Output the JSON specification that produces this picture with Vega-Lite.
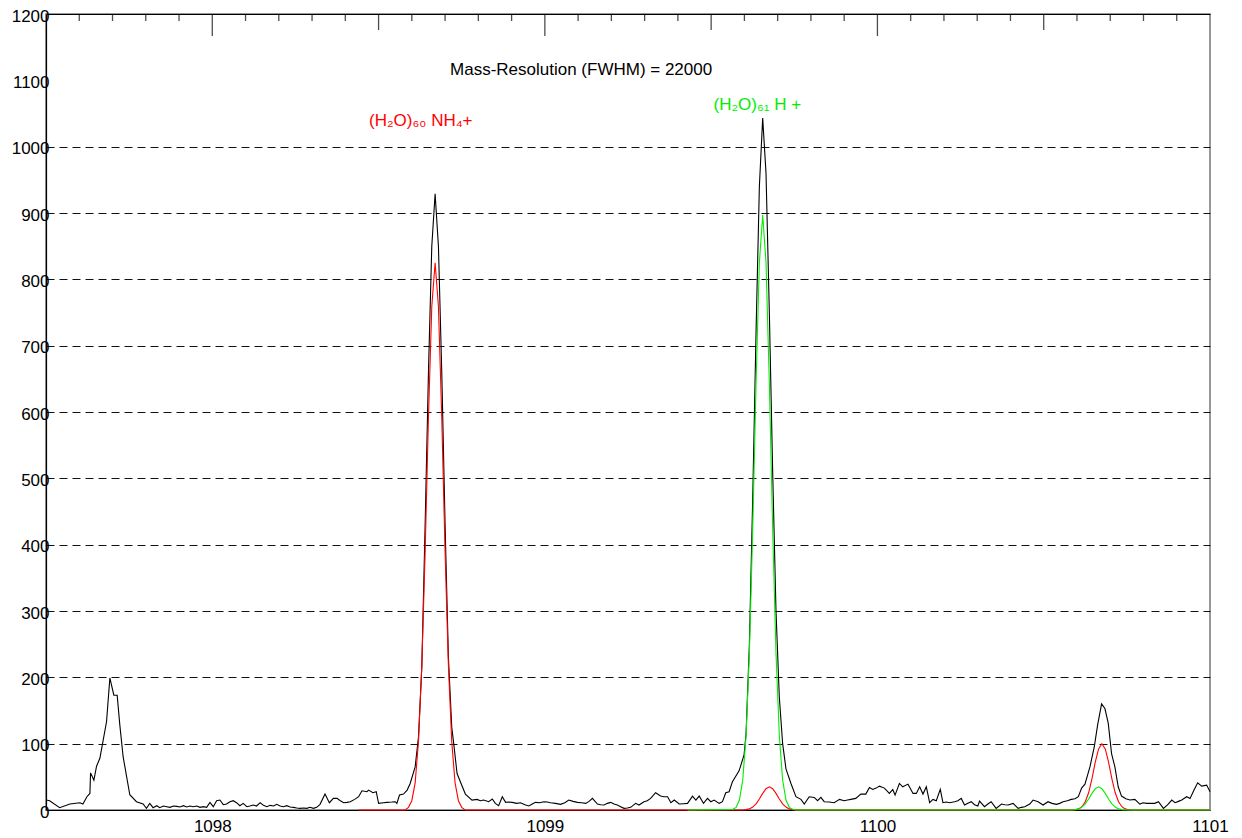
{
  "$schema": "https://vega.github.io/schema/vega-lite/v6.json",
  "width": 1164,
  "height": 796,
  "autosize": "none",
  "padding": {"left": 46, "top": 14, "right": 32, "bottom": 28},
  "background": "white",
  "config": {
    "view": {"stroke": "#777", "strokeWidth": 1.5},
    "font": "Liberation Sans",
    "axis": {"labelFont": "Liberation Sans", "labelFontSize": 17, "labelColor": "#000", "domainColor": "#000", "domainWidth": 1.2, "title": null}
  },
  "datasets": {
    "black": [
      {"mass": 1097.501, "intensity": 15}, {"mass": 1097.511, "intensity": 14}, {"mass": 1097.541, "intensity": 3.5}, {"mass": 1097.572, "intensity": 9},
      {"mass": 1097.602, "intensity": 11}, {"mass": 1097.611, "intensity": 9}, {"mass": 1097.623, "intensity": 20}, {"mass": 1097.632, "intensity": 25},
      {"mass": 1097.634, "intensity": 56}, {"mass": 1097.644, "intensity": 45}, {"mass": 1097.652, "intensity": 66}, {"mass": 1097.662, "intensity": 78},
      {"mass": 1097.682, "intensity": 133}, {"mass": 1097.692, "intensity": 199}, {"mass": 1097.704, "intensity": 173}, {"mass": 1097.714, "intensity": 173},
      {"mass": 1097.722, "intensity": 128}, {"mass": 1097.732, "intensity": 80}, {"mass": 1097.752, "intensity": 23}, {"mass": 1097.772, "intensity": 12.5},
      {"mass": 1097.792, "intensity": 9}, {"mass": 1097.802, "intensity": 2.5}, {"mass": 1097.812, "intensity": 10}, {"mass": 1097.822, "intensity": 3.5},
      {"mass": 1097.833, "intensity": 6.5}, {"mass": 1097.842, "intensity": 3.5}, {"mass": 1097.853, "intensity": 6}, {"mass": 1097.863, "intensity": 5},
      {"mass": 1097.873, "intensity": 4}, {"mass": 1097.883, "intensity": 6}, {"mass": 1097.893, "intensity": 5.5}, {"mass": 1097.903, "intensity": 4.5},
      {"mass": 1097.913, "intensity": 6.5}, {"mass": 1097.923, "intensity": 4.5}, {"mass": 1097.933, "intensity": 6}, {"mass": 1097.943, "intensity": 5},
      {"mass": 1097.953, "intensity": 6}, {"mass": 1097.963, "intensity": 4}, {"mass": 1097.973, "intensity": 5}, {"mass": 1097.983, "intensity": 4},
      {"mass": 1097.993, "intensity": 11.5}, {"mass": 1098.003, "intensity": 5}, {"mass": 1098.013, "intensity": 14}, {"mass": 1098.023, "intensity": 15},
      {"mass": 1098.033, "intensity": 8}, {"mass": 1098.043, "intensity": 9}, {"mass": 1098.053, "intensity": 12.5}, {"mass": 1098.063, "intensity": 14},
      {"mass": 1098.073, "intensity": 11}, {"mass": 1098.083, "intensity": 6.5}, {"mass": 1098.093, "intensity": 10}, {"mass": 1098.104, "intensity": 5},
      {"mass": 1098.113, "intensity": 6}, {"mass": 1098.123, "intensity": 7.5}, {"mass": 1098.133, "intensity": 6}, {"mass": 1098.144, "intensity": 11},
      {"mass": 1098.154, "intensity": 7}, {"mass": 1098.164, "intensity": 5}, {"mass": 1098.174, "intensity": 7}, {"mass": 1098.184, "intensity": 6},
      {"mass": 1098.194, "intensity": 8.5}, {"mass": 1098.204, "intensity": 6}, {"mass": 1098.214, "intensity": 5}, {"mass": 1098.224, "intensity": 6.5},
      {"mass": 1098.234, "intensity": 4.5}, {"mass": 1098.244, "intensity": 4}, {"mass": 1098.254, "intensity": 3}, {"mass": 1098.264, "intensity": 2.5},
      {"mass": 1098.274, "intensity": 3}, {"mass": 1098.284, "intensity": 2.5}, {"mass": 1098.294, "intensity": 4}, {"mass": 1098.304, "intensity": 2.5},
      {"mass": 1098.314, "intensity": 4}, {"mass": 1098.324, "intensity": 8.5}, {"mass": 1098.339, "intensity": 24}, {"mass": 1098.352, "intensity": 11},
      {"mass": 1098.364, "intensity": 17.5}, {"mass": 1098.375, "intensity": 17.5}, {"mass": 1098.385, "intensity": 14}, {"mass": 1098.395, "intensity": 11},
      {"mass": 1098.405, "intensity": 11.5}, {"mass": 1098.415, "intensity": 12.5}, {"mass": 1098.428, "intensity": 16}, {"mass": 1098.44, "intensity": 20},
      {"mass": 1098.45, "intensity": 29}, {"mass": 1098.465, "intensity": 27.5}, {"mass": 1098.47, "intensity": 30}, {"mass": 1098.483, "intensity": 26},
      {"mass": 1098.493, "intensity": 27.5}, {"mass": 1098.5, "intensity": 10}, {"mass": 1098.515, "intensity": 11}, {"mass": 1098.525, "intensity": 11.5},
      {"mass": 1098.54, "intensity": 12}, {"mass": 1098.55, "intensity": 12.5}, {"mass": 1098.555, "intensity": 10}, {"mass": 1098.563, "intensity": 22.5},
      {"mass": 1098.575, "intensity": 24}, {"mass": 1098.586, "intensity": 30}, {"mass": 1098.595, "intensity": 40}, {"mass": 1098.61, "intensity": 65},
      {"mass": 1098.62, "intensity": 110}, {"mass": 1098.63, "intensity": 215}, {"mass": 1098.64, "intensity": 430}, {"mass": 1098.65, "intensity": 660},
      {"mass": 1098.66, "intensity": 850}, {"mass": 1098.67, "intensity": 929}, {"mass": 1098.68, "intensity": 850}, {"mass": 1098.69, "intensity": 660},
      {"mass": 1098.7, "intensity": 430}, {"mass": 1098.71, "intensity": 230}, {"mass": 1098.72, "intensity": 125}, {"mass": 1098.726, "intensity": 100},
      {"mass": 1098.736, "intensity": 55}, {"mass": 1098.748, "intensity": 40}, {"mass": 1098.761, "intensity": 24}, {"mass": 1098.781, "intensity": 15},
      {"mass": 1098.796, "intensity": 16}, {"mass": 1098.806, "intensity": 14}, {"mass": 1098.816, "intensity": 15}, {"mass": 1098.831, "intensity": 12.5},
      {"mass": 1098.842, "intensity": 16.5}, {"mass": 1098.851, "intensity": 10}, {"mass": 1098.861, "intensity": 6.5}, {"mass": 1098.872, "intensity": 20},
      {"mass": 1098.882, "intensity": 11.5}, {"mass": 1098.892, "intensity": 12}, {"mass": 1098.902, "intensity": 11.5}, {"mass": 1098.915, "intensity": 10},
      {"mass": 1098.927, "intensity": 11}, {"mass": 1098.94, "intensity": 8}, {"mass": 1098.952, "intensity": 6}, {"mass": 1098.962, "intensity": 9},
      {"mass": 1098.972, "intensity": 11.5}, {"mass": 1098.985, "intensity": 11}, {"mass": 1098.997, "intensity": 12.5}, {"mass": 1099.007, "intensity": 12},
      {"mass": 1099.017, "intensity": 11}, {"mass": 1099.032, "intensity": 10}, {"mass": 1099.047, "intensity": 8.5}, {"mass": 1099.06, "intensity": 11},
      {"mass": 1099.072, "intensity": 15}, {"mass": 1099.085, "intensity": 13}, {"mass": 1099.098, "intensity": 11.5}, {"mass": 1099.11, "intensity": 11},
      {"mass": 1099.123, "intensity": 10}, {"mass": 1099.133, "intensity": 13}, {"mass": 1099.143, "intensity": 17.5}, {"mass": 1099.158, "intensity": 9},
      {"mass": 1099.168, "intensity": 8}, {"mass": 1099.178, "intensity": 7.5}, {"mass": 1099.188, "intensity": 10}, {"mass": 1099.198, "intensity": 11.5},
      {"mass": 1099.208, "intensity": 9}, {"mass": 1099.218, "intensity": 7.5}, {"mass": 1099.228, "intensity": 5}, {"mass": 1099.238, "intensity": 2.5},
      {"mass": 1099.248, "intensity": 3}, {"mass": 1099.258, "intensity": 4}, {"mass": 1099.273, "intensity": 10}, {"mass": 1099.283, "intensity": 7.5},
      {"mass": 1099.298, "intensity": 12.5}, {"mass": 1099.308, "intensity": 14}, {"mass": 1099.318, "intensity": 17.5}, {"mass": 1099.333, "intensity": 26},
      {"mass": 1099.348, "intensity": 21}, {"mass": 1099.358, "intensity": 20}, {"mass": 1099.369, "intensity": 20}, {"mass": 1099.379, "intensity": 11},
      {"mass": 1099.389, "intensity": 15}, {"mass": 1099.404, "intensity": 9}, {"mass": 1099.417, "intensity": 9.5}, {"mass": 1099.429, "intensity": 10},
      {"mass": 1099.444, "intensity": 21}, {"mass": 1099.454, "intensity": 15}, {"mass": 1099.464, "intensity": 21}, {"mass": 1099.477, "intensity": 10},
      {"mass": 1099.489, "intensity": 17.5}, {"mass": 1099.499, "intensity": 12.5}, {"mass": 1099.509, "intensity": 15}, {"mass": 1099.524, "intensity": 10},
      {"mass": 1099.534, "intensity": 12.5}, {"mass": 1099.544, "intensity": 26}, {"mass": 1099.554, "intensity": 27.5}, {"mass": 1099.564, "intensity": 42.5},
      {"mass": 1099.584, "intensity": 59}, {"mass": 1099.599, "intensity": 83}, {"mass": 1099.605, "intensity": 115}, {"mass": 1099.615, "intensity": 250},
      {"mass": 1099.625, "intensity": 470}, {"mass": 1099.635, "intensity": 720}, {"mass": 1099.645, "intensity": 940}, {"mass": 1099.655, "intensity": 1043},
      {"mass": 1099.665, "intensity": 960}, {"mass": 1099.675, "intensity": 750}, {"mass": 1099.685, "intensity": 510}, {"mass": 1099.695, "intensity": 300},
      {"mass": 1099.705, "intensity": 170}, {"mass": 1099.715, "intensity": 100}, {"mass": 1099.725, "intensity": 62}, {"mass": 1099.74, "intensity": 40},
      {"mass": 1099.755, "intensity": 20}, {"mass": 1099.77, "intensity": 16}, {"mass": 1099.78, "intensity": 9}, {"mass": 1099.795, "intensity": 20},
      {"mass": 1099.81, "intensity": 19}, {"mass": 1099.82, "intensity": 14}, {"mass": 1099.83, "intensity": 19}, {"mass": 1099.84, "intensity": 12.5},
      {"mass": 1099.855, "intensity": 12}, {"mass": 1099.87, "intensity": 11}, {"mass": 1099.886, "intensity": 16}, {"mass": 1099.9, "intensity": 14},
      {"mass": 1099.91, "intensity": 15}, {"mass": 1099.92, "intensity": 16}, {"mass": 1099.935, "intensity": 17.5}, {"mass": 1099.95, "intensity": 24},
      {"mass": 1099.965, "intensity": 24}, {"mass": 1099.976, "intensity": 34}, {"mass": 1099.986, "intensity": 31}, {"mass": 1099.996, "intensity": 33},
      {"mass": 1100.006, "intensity": 36}, {"mass": 1100.021, "intensity": 33}, {"mass": 1100.036, "intensity": 25}, {"mass": 1100.046, "intensity": 31},
      {"mass": 1100.053, "intensity": 22.5}, {"mass": 1100.066, "intensity": 40}, {"mass": 1100.076, "intensity": 35}, {"mass": 1100.092, "intensity": 39},
      {"mass": 1100.107, "intensity": 25}, {"mass": 1100.117, "intensity": 25}, {"mass": 1100.127, "intensity": 35}, {"mass": 1100.137, "intensity": 24},
      {"mass": 1100.147, "intensity": 35}, {"mass": 1100.157, "intensity": 11}, {"mass": 1100.167, "intensity": 16}, {"mass": 1100.177, "intensity": 14},
      {"mass": 1100.189, "intensity": 31}, {"mass": 1100.197, "intensity": 11}, {"mass": 1100.207, "intensity": 12}, {"mass": 1100.217, "intensity": 11},
      {"mass": 1100.232, "intensity": 12.5}, {"mass": 1100.242, "intensity": 14}, {"mass": 1100.252, "intensity": 17.5}, {"mass": 1100.262, "intensity": 7.5},
      {"mass": 1100.272, "intensity": 10}, {"mass": 1100.282, "intensity": 12.5}, {"mass": 1100.292, "intensity": 8}, {"mass": 1100.302, "intensity": 6},
      {"mass": 1100.307, "intensity": 13.5}, {"mass": 1100.322, "intensity": 5}, {"mass": 1100.332, "intensity": 9}, {"mass": 1100.342, "intensity": 12.5},
      {"mass": 1100.357, "intensity": 2.5}, {"mass": 1100.373, "intensity": 9}, {"mass": 1100.383, "intensity": 8}, {"mass": 1100.393, "intensity": 7.5},
      {"mass": 1100.408, "intensity": 10}, {"mass": 1100.423, "intensity": 2.5}, {"mass": 1100.433, "intensity": 4}, {"mass": 1100.443, "intensity": 5},
      {"mass": 1100.458, "intensity": 9}, {"mass": 1100.468, "intensity": 15}, {"mass": 1100.483, "intensity": 12.5}, {"mass": 1100.498, "intensity": 7.5},
      {"mass": 1100.513, "intensity": 12.5}, {"mass": 1100.525, "intensity": 10}, {"mass": 1100.538, "intensity": 8.5}, {"mass": 1100.548, "intensity": 10},
      {"mass": 1100.558, "intensity": 12.5}, {"mass": 1100.571, "intensity": 14}, {"mass": 1100.583, "intensity": 16}, {"mass": 1100.594, "intensity": 17},
      {"mass": 1100.604, "intensity": 20}, {"mass": 1100.614, "intensity": 33}, {"mass": 1100.624, "intensity": 39}, {"mass": 1100.639, "intensity": 65},
      {"mass": 1100.652, "intensity": 95}, {"mass": 1100.662, "intensity": 128}, {"mass": 1100.674, "intensity": 160}, {"mass": 1100.684, "intensity": 153},
      {"mass": 1100.694, "intensity": 131}, {"mass": 1100.704, "intensity": 85}, {"mass": 1100.714, "intensity": 65}, {"mass": 1100.724, "intensity": 35},
      {"mass": 1100.734, "intensity": 21}, {"mass": 1100.747, "intensity": 17}, {"mass": 1100.759, "intensity": 15}, {"mass": 1100.774, "intensity": 16},
      {"mass": 1100.789, "intensity": 9}, {"mass": 1100.799, "intensity": 11}, {"mass": 1100.809, "intensity": 10}, {"mass": 1100.821, "intensity": 10},
      {"mass": 1100.834, "intensity": 10}, {"mass": 1100.845, "intensity": 12.5}, {"mass": 1100.86, "intensity": 2.5}, {"mass": 1100.873, "intensity": 8},
      {"mass": 1100.885, "intensity": 15}, {"mass": 1100.895, "intensity": 11}, {"mass": 1100.905, "intensity": 13}, {"mass": 1100.915, "intensity": 15},
      {"mass": 1100.93, "intensity": 20}, {"mass": 1100.94, "intensity": 17.5}, {"mass": 1100.952, "intensity": 30}, {"mass": 1100.963, "intensity": 41},
      {"mass": 1100.975, "intensity": 36}, {"mass": 1100.99, "intensity": 37.5}, {"mass": 1101.0, "intensity": 27.5}
    ],
    "red": [
      {"mass": 1098.44, "intensity": 0}, {"mass": 1098.58, "intensity": 0}, {"mass": 1098.59, "intensity": 4}, {"mass": 1098.6, "intensity": 14},
      {"mass": 1098.61, "intensity": 41}, {"mass": 1098.62, "intensity": 103}, {"mass": 1098.63, "intensity": 218}, {"mass": 1098.64, "intensity": 389},
      {"mass": 1098.65, "intensity": 592}, {"mass": 1098.66, "intensity": 759}, {"mass": 1098.67, "intensity": 825}, {"mass": 1098.68, "intensity": 759},
      {"mass": 1098.69, "intensity": 592}, {"mass": 1098.7, "intensity": 389}, {"mass": 1098.71, "intensity": 218}, {"mass": 1098.72, "intensity": 103},
      {"mass": 1098.73, "intensity": 41}, {"mass": 1098.74, "intensity": 14}, {"mass": 1098.75, "intensity": 4}, {"mass": 1098.76, "intensity": 0},
      {"mass": 1099.595, "intensity": 0}, {"mass": 1099.605, "intensity": 0.6}, {"mass": 1099.615, "intensity": 1.7}, {"mass": 1099.625, "intensity": 4.4},
      {"mass": 1099.635, "intensity": 9.2}, {"mass": 1099.645, "intensity": 16.5}, {"mass": 1099.655, "intensity": 25}, {"mass": 1099.665, "intensity": 32},
      {"mass": 1099.675, "intensity": 35}, {"mass": 1099.685, "intensity": 32}, {"mass": 1099.695, "intensity": 25}, {"mass": 1099.705, "intensity": 16.5},
      {"mass": 1099.715, "intensity": 9.2}, {"mass": 1099.725, "intensity": 4.4}, {"mass": 1099.735, "intensity": 1.7}, {"mass": 1099.745, "intensity": 0.6},
      {"mass": 1099.755, "intensity": 0}, {"mass": 1100.585, "intensity": 0}, {"mass": 1100.595, "intensity": 0.5}, {"mass": 1100.605, "intensity": 1.7},
      {"mass": 1100.615, "intensity": 5}, {"mass": 1100.625, "intensity": 12.5}, {"mass": 1100.635, "intensity": 26}, {"mass": 1100.645, "intensity": 47},
      {"mass": 1100.655, "intensity": 72}, {"mass": 1100.665, "intensity": 92}, {"mass": 1100.675, "intensity": 100}, {"mass": 1100.685, "intensity": 92},
      {"mass": 1100.695, "intensity": 72}, {"mass": 1100.705, "intensity": 47}, {"mass": 1100.715, "intensity": 26}, {"mass": 1100.725, "intensity": 12.5},
      {"mass": 1100.735, "intensity": 5}, {"mass": 1100.745, "intensity": 1.7}, {"mass": 1100.755, "intensity": 0.5}, {"mass": 1100.765, "intensity": 0},
      {"mass": 1101.0, "intensity": 0}
    ],
    "green": [
      {"mass": 1099.429, "intensity": 0}, {"mass": 1099.565, "intensity": 1}, {"mass": 1099.575, "intensity": 4}, {"mass": 1099.585, "intensity": 15},
      {"mass": 1099.595, "intensity": 45}, {"mass": 1099.605, "intensity": 112}, {"mass": 1099.615, "intensity": 237}, {"mass": 1099.625, "intensity": 423},
      {"mass": 1099.635, "intensity": 643}, {"mass": 1099.645, "intensity": 825}, {"mass": 1099.655, "intensity": 897}, {"mass": 1099.665, "intensity": 825},
      {"mass": 1099.675, "intensity": 643}, {"mass": 1099.685, "intensity": 423}, {"mass": 1099.695, "intensity": 237}, {"mass": 1099.705, "intensity": 112},
      {"mass": 1099.715, "intensity": 45}, {"mass": 1099.725, "intensity": 15}, {"mass": 1099.735, "intensity": 4}, {"mass": 1099.745, "intensity": 1},
      {"mass": 1099.755, "intensity": 0}, {"mass": 1100.575, "intensity": 0}, {"mass": 1100.585, "intensity": 0.2}, {"mass": 1100.595, "intensity": 0.6},
      {"mass": 1100.605, "intensity": 1.7}, {"mass": 1100.615, "intensity": 4.4}, {"mass": 1100.625, "intensity": 9.2}, {"mass": 1100.635, "intensity": 16.5},
      {"mass": 1100.645, "intensity": 25}, {"mass": 1100.655, "intensity": 32}, {"mass": 1100.665, "intensity": 35}, {"mass": 1100.675, "intensity": 32},
      {"mass": 1100.685, "intensity": 25}, {"mass": 1100.695, "intensity": 16.5}, {"mass": 1100.705, "intensity": 9.2}, {"mass": 1100.715, "intensity": 4.4},
      {"mass": 1100.725, "intensity": 1.7}, {"mass": 1100.735, "intensity": 0.6}, {"mass": 1100.745, "intensity": 0.2}, {"mass": 1100.755, "intensity": 0},
      {"mass": 1101.0, "intensity": 0}
    ],
    "ticks": [
      {"mass": 1097.6, "kind": "minor"}, {"mass": 1097.7, "kind": "minor"}, {"mass": 1097.8, "kind": "minor"}, {"mass": 1097.9, "kind": "minor"},
      {"mass": 1098.0, "kind": "major"}, {"mass": 1098.1, "kind": "minor"}, {"mass": 1098.2, "kind": "minor"}, {"mass": 1098.3, "kind": "minor"},
      {"mass": 1098.4, "kind": "minor"}, {"mass": 1098.5, "kind": "half"}, {"mass": 1098.6, "kind": "minor"}, {"mass": 1098.7, "kind": "minor"},
      {"mass": 1098.8, "kind": "minor"}, {"mass": 1098.9, "kind": "minor"}, {"mass": 1099.0, "kind": "major"}, {"mass": 1099.1, "kind": "minor"},
      {"mass": 1099.2, "kind": "minor"}, {"mass": 1099.3, "kind": "minor"}, {"mass": 1099.4, "kind": "minor"}, {"mass": 1099.5, "kind": "half"},
      {"mass": 1099.6, "kind": "minor"}, {"mass": 1099.7, "kind": "minor"}, {"mass": 1099.8, "kind": "minor"}, {"mass": 1099.9, "kind": "minor"},
      {"mass": 1100.0, "kind": "major"}, {"mass": 1100.1, "kind": "minor"}, {"mass": 1100.2, "kind": "minor"}, {"mass": 1100.3, "kind": "minor"},
      {"mass": 1100.4, "kind": "minor"}, {"mass": 1100.5, "kind": "half"}, {"mass": 1100.6, "kind": "minor"}, {"mass": 1100.7, "kind": "minor"},
      {"mass": 1100.8, "kind": "minor"}, {"mass": 1100.9, "kind": "minor"}
    ],
    "labels": [
      {"mass": 1099.109, "intensity": 1108, "text": "Mass-Resolution (FWHM) = 22000", "kind": "info"},
      {"mass": 1098.627, "intensity": 1031, "text": "(H₂O)₆₀ NH₄+", "kind": "NH4"},
      {"mass": 1099.639, "intensity": 1055, "text": "(H₂O)₆₁ H +", "kind": "H"}
    ]
  },
  "resolve": {"axis": {"x": "independent"}},
  "layer": [
    {
      "data": {"name": "black"},
      "mark": {"type": "line", "color": "#000", "strokeWidth": 1.1},
      "encoding": {
        "x": {"field": "mass", "type": "quantitative", "scale": {"domain": [1097.5, 1101], "nice": false, "zero": false},
              "axis": {"orient": "bottom", "values": [1098, 1099, 1100, 1101], "format": "d", "ticks": false, "labelPadding": 8, "labelFlush": false, "grid": false}},
        "y": {"field": "intensity", "type": "quantitative", "scale": {"domain": [0, 1200], "nice": false},
              "axis": {"values": [0, 100, 200, 300, 400, 500, 600, 700, 800, 900, 1000, 1100, 1200], "format": "d", "ticks": false, "labelPadding": -3, "labelOffset": 2,
                       "grid": true, "gridDash": [8, 5], "gridColor": "#111", "gridWidth": 1,
                       "gridOpacity": {"condition": {"test": "datum.value == 0 || datum.value >= 1100", "value": 0}, "value": 1}}}
      }
    },
    {
      "data": {"name": "red"},
      "mark": {"type": "line", "color": "#ff0000", "strokeWidth": 1.1},
      "encoding": {
        "x": {"field": "mass", "type": "quantitative",
              "axis": {"orient": "top", "labels": false, "ticks": false, "grid": false}},
        "y": {"field": "intensity", "type": "quantitative"}
      }
    },
    {
      "data": {"name": "green"},
      "mark": {"type": "line", "color": "#00ee00", "strokeWidth": 1.1},
      "encoding": {
        "x": {"field": "mass", "type": "quantitative", "axis": null},
        "y": {"field": "intensity", "type": "quantitative"}
      }
    },
    {
      "data": {"name": "ticks"},
      "transform": [{"filter": "datum.kind == 'minor'"}],
      "mark": {"type": "tick", "orient": "vertical", "clip": true, "color": "#000", "thickness": 1.3, "size": 14},
      "encoding": {
        "x": {"field": "mass", "type": "quantitative", "axis": null},
        "y": {"datum": 1200, "type": "quantitative"}
      }
    },
    {
      "data": {"name": "ticks"},
      "transform": [{"filter": "datum.kind == 'half'"}],
      "mark": {"type": "tick", "orient": "vertical", "clip": true, "color": "#000", "thickness": 1.3, "size": 32},
      "encoding": {
        "x": {"field": "mass", "type": "quantitative", "axis": null},
        "y": {"datum": 1200, "type": "quantitative"}
      }
    },
    {
      "data": {"name": "ticks"},
      "transform": [{"filter": "datum.kind == 'major'"}],
      "mark": {"type": "tick", "orient": "vertical", "clip": true, "color": "#000", "thickness": 1.3, "size": 44},
      "encoding": {
        "x": {"field": "mass", "type": "quantitative", "axis": null},
        "y": {"datum": 1200, "type": "quantitative"}
      }
    },
    {
      "data": {"name": "labels"},
      "mark": {"type": "text", "font": "Liberation Sans", "fontSize": 17, "align": "center", "baseline": "alphabetic"},
      "encoding": {
        "x": {"field": "mass", "type": "quantitative", "axis": null},
        "y": {"field": "intensity", "type": "quantitative"},
        "text": {"field": "text"},
        "color": {"field": "kind", "type": "nominal", "scale": {"domain": ["info", "NH4", "H"], "range": ["#000000", "#ff0000", "#00ee00"]}, "legend": null}
      }
    }
  ]
}
